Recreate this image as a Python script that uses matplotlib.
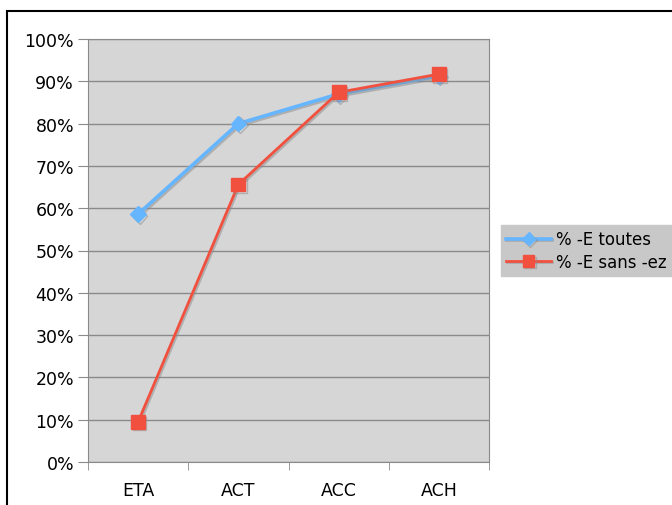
import matplotlib.pyplot as plt
import matplotlib.patheffects as pe
from matplotlib.patches import Rectangle
from matplotlib.ticker import FixedLocator, PercentFormatter

# Percent of -E forms per stage
stages = ['ETA', 'ACT', 'ACC', 'ACH']
e_toutes = [58.6, 80.0, 87.0, 91.3]
e_sans_ez = [9.5, 65.6, 87.4, 91.7]

fig = plt.figure(figsize=(6.72, 5.06), dpi=100)
ax = fig.add_axes([88 / 672, 1 - 463 / 506, 401 / 672, 423 / 506])

# outer frame around the chart
fig.patches.append(Rectangle((7 / 672, -0.1), 1.0, 1 - 12 / 506 + 0.1,
                             transform=fig.transFigure, fill=False,
                             edgecolor='black', linewidth=1.5, clip_on=False))

ax.set_facecolor('#d6d6d6')
x = range(len(stages))
shadow = [pe.SimpleLineShadow(offset=(1, -1.2), shadow_color='#8a8a8a', alpha=0.5), pe.Normal()]

ax.plot(x, e_toutes, color='#66b5ff', linewidth=2.6, marker='D', markersize=8,
        label='% -E toutes', path_effects=shadow, zorder=3)
ax.plot(x, e_sans_ez, color='#f2503f', linewidth=2, marker='s', markersize=10,
        label='% -E sans -ez', path_effects=shadow, zorder=4)

ax.set_xlim(-0.5, 3.5)
ax.set_ylim(0, 100)
ax.yaxis.set_major_locator(FixedLocator(range(0, 101, 10)))
ax.yaxis.set_major_formatter(PercentFormatter(decimals=0))
ax.grid(axis='y', color='#8a8a8a', linewidth=1)
ax.set_axisbelow(True)

ax.set_xticks(list(x))
ax.set_xticklabels(stages)
ax.xaxis.set_minor_locator(FixedLocator([-0.5, 0.5, 1.5, 2.5, 3.5]))
ax.tick_params(axis='x', which='major', length=0, pad=14, labelsize=12.5)
ax.tick_params(axis='x', which='minor', length=6, color='#8a8a8a')
ax.tick_params(axis='y', length=7, color='#8a8a8a', labelsize=12.5, pad=3)

for side in ['top', 'right', 'left', 'bottom']:
    ax.spines[side].set_color('#8a8a8a')

leg = ax.legend(loc='center left', bbox_to_anchor=(1.03, 0.50), frameon=True,
                fancybox=False, facecolor='#c8c8c8', edgecolor='#c8c8c8',
                fontsize=12, handlelength=2.7, borderpad=0.3, labelspacing=0.25,
                handletextpad=0.3, borderaxespad=0, markerscale=0.85)
leg.get_frame().set_alpha(1)

fig.savefig('out.png', dpi=100)
